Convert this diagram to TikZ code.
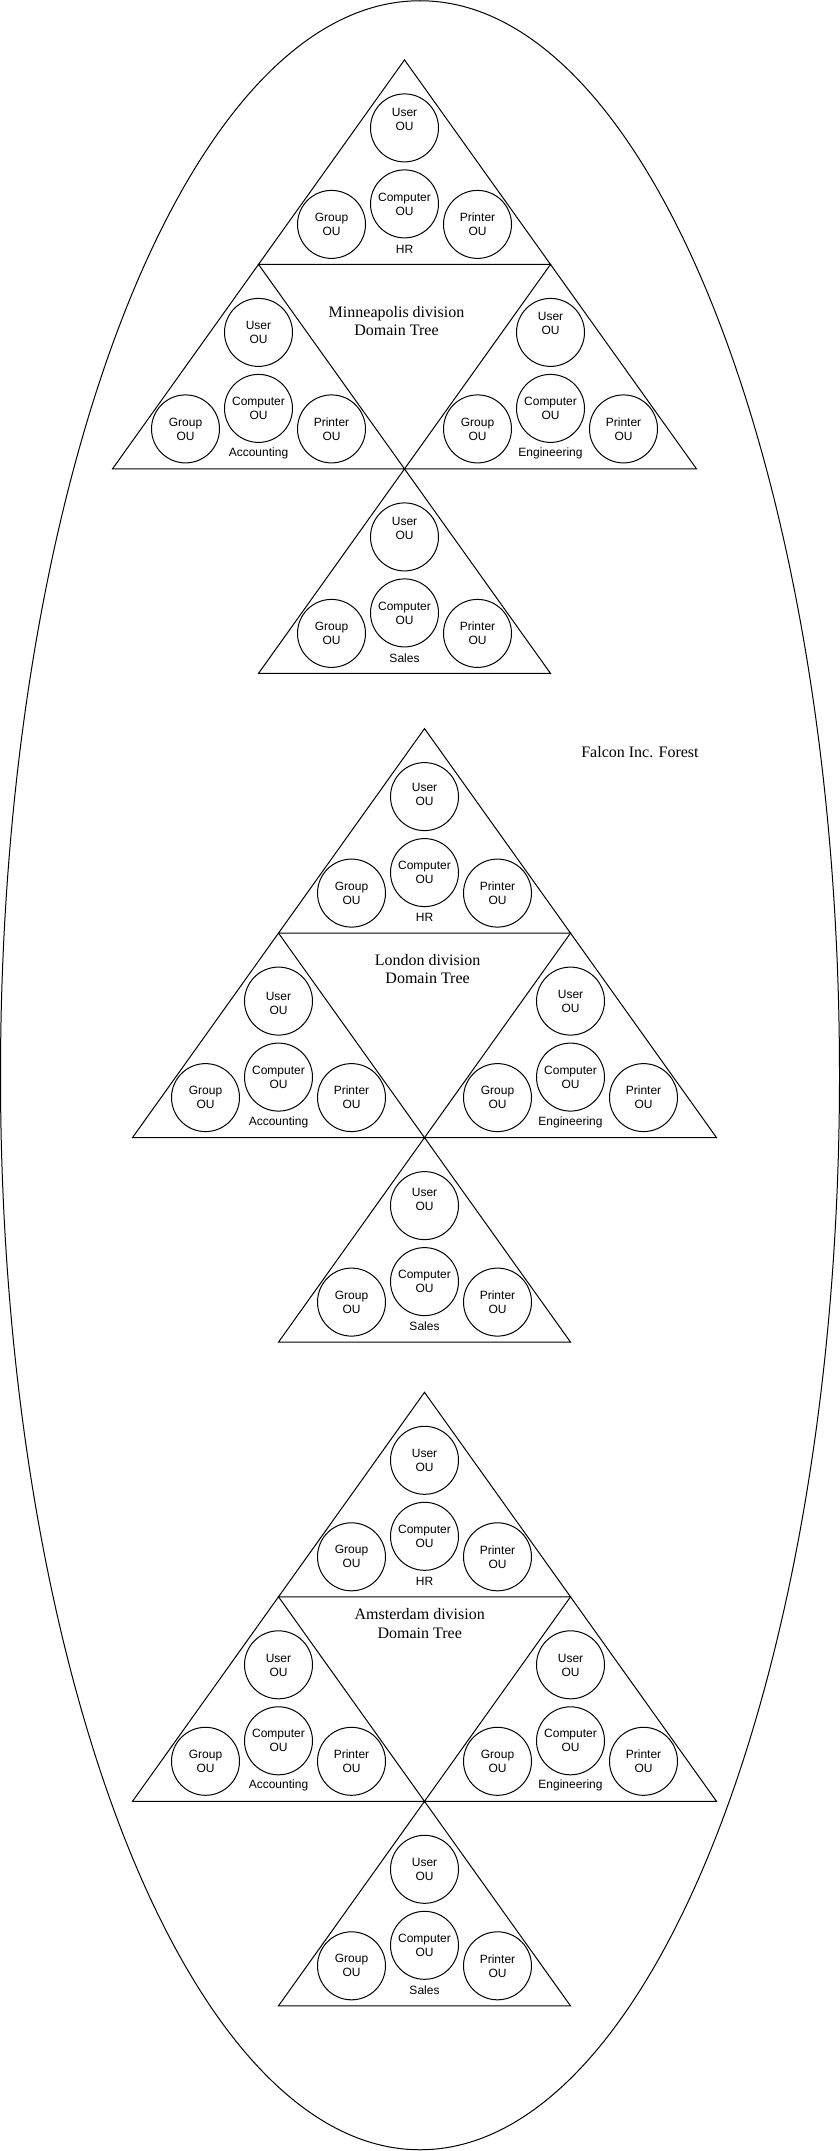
\documentclass[tikz,border=0pt]{standalone}
\usepackage{fontspec}
\setmainfont{Liberation Serif}
\setsansfont{Liberation Sans}
\usetikzlibrary{calc}

\begin{document}
\begin{tikzpicture}[x = 1pt, y = -1pt, line width = 1pt,
        ou/.style = {circle, draw, minimum size = 68pt, inner sep = 0pt, align = center, font = \sffamily\fontsize{12}{14}\selectfont},
        outext/.style = {align = center, font = \sffamily\fontsize{12}{14}\selectfont},
        deptname/.style = {font = \sffamily\fontsize{12}{14}\selectfont},
        divtitle/.style = {align = center, font = \fontsize{16}{18.5}\selectfont}]
    \useasboundingbox (0, 0) rectangle (840, 2151);
    \draw (420, 1075.25) ellipse [x radius = 419.5pt, y radius = 1074.5pt];
    \node[divtitle] (forest) at (640, 752) {Falcon Inc. Forest};
    \foreach \dv/\ax/\ay/\tx/\ty/\city/\upa/\upb/\upc/\upd in {min/404.5/59.9/396.5/321/Minneapolis/8/0/9/8, lon/424.5/728.6/427.6/969/London/2/-2/0/6, ams/424.5/1392.3/419.7/1623.4/Amsterdam/0/-1/-1/0}{
        \node[divtitle] (\dv-title) at (\tx, \ty) {\city\ division\\Domain Tree};
        \foreach \tr/\ox/\oy/\dname/\ur in {hr/0/0/HR/\upa, acc/-146/204.5/Accounting/\upb, eng/146/204.5/Engineering/\upc, sal/0/409/Sales/\upd}{
            \coordinate (\dv-\tr) at (\ax + \ox, \ay + \oy);
            \draw (\dv-\tr) -- ++(-146, 204.5) -- ++(292, 0) -- cycle;
            \node[ou, label = {[outext, yshift = \ur pt]center:User\\OU}] (\dv-\tr-user) at ($(\dv-\tr) + (0, 68)$) {};
            \node[ou] (\dv-\tr-comp) at ($(\dv-\tr) + (0, 144)$) {Computer\\OU};
            \node[ou] (\dv-\tr-group) at ($(\dv-\tr) + (-73, 164.5)$) {Group\\OU};
            \node[ou] (\dv-\tr-printer) at ($(\dv-\tr) + (73, 164.5)$) {Printer\\OU};
            \node[deptname] (\dv-\tr-name) at ($(\dv-\tr) + (0, 189)$) {\dname};
        }
    }
\end{tikzpicture}
\end{document}
